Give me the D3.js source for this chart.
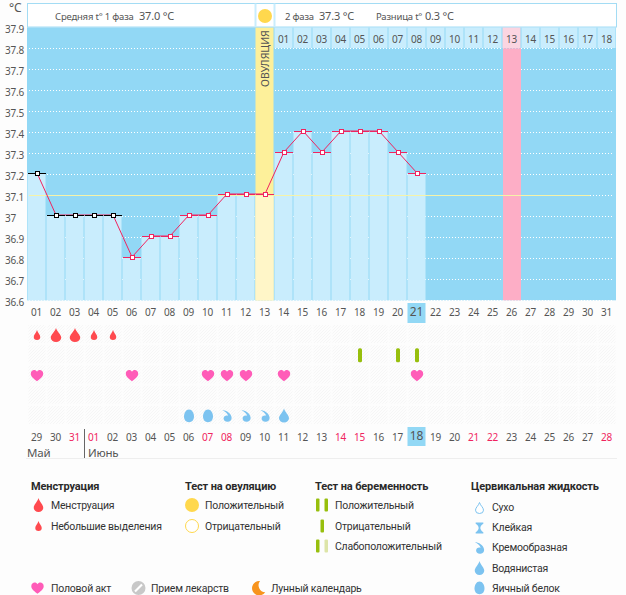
<!DOCTYPE html>
<html>
<head>
<meta charset="utf-8">
<script src="https://cdnjs.cloudflare.com/ajax/libs/d3/7.8.5/d3.min.js"></script>
<style>
  html, body { margin: 0; padding: 0; background: #fdfdfd; }
  svg { display: block; }
  text { fill: #555; font-family: "Noto Sans", sans-serif; font-size: 10px; letter-spacing: -0.2px; }
  .legend text { fill: #333; font-family: Roboto, sans-serif; font-size: 10.5px; letter-spacing: -0.22px; }
  .legend text.head { font-weight: 700; font-size: 11px; fill: #2a2a2a; letter-spacing: -0.13px; }
  .axis path, .axis line { display: none; }
</style>
</head>
<body>
<svg id="chart" width="626" height="595"></svg>
<script>
// -- Data -- //
const days = d3.range(1, 32);
const temps = [37.2, 37, 37, 37, 37, 36.8, 36.9, 36.9, 37, 37, 37.1, 37.1, 37.1,
  37.3, 37.4, 37.3, 37.4, 37.4, 37.4, 37.3, 37.2];
const tempTicks = [37.9, 37.8, 37.7, 37.6, 37.5, 37.4, 37.3, 37.2, 37.1, 37, 36.9, 36.8, 36.7, 36.6];
const dates = ["29", "30", "31", "01", "02", "03", "04", "05", "06", "07", "08", "09", "10", "11", "12", "13",
  "14", "15", "16", "17", "18", "19", "20", "21", "22", "23", "24", "25", "26", "27", "28"];
const redDates = ["31", "01", "07", "08", "14", "15", "21", "22", "28"];
const cycleDays = ["01", "02", "03", "04", "05", "06", "07", "08", "09", "10", "11", "12", "13", "14", "15", "16", "17", "18"];
const blackPoints = 5;
const ovulationDay = 13;
const pinkDay = 26;
const today = 21;
const coverTemp = 37.1;

// day -> mark, per row
const bloodBig = [2, 3];
const bloodSmall = [1, 4, 5];
const pregnancyTests = [18, 20, 21];
const sexDays = [1, 6, 10, 11, 12, 14, 21];
const eggWhiteDays = [9, 10];
const creamyDays = [11, 12, 13];
const wateryDays = [14];

const legendMenstruation = ["Менструация", "Небольшие выделения"];
const legendOvulation = ["Положительный", "Отрицательный"];
const legendPregnancy = ["Положительный", "Отрицательный", "Слабоположительный"];
const legendFluid = ["Сухо", "Клейкая", "Кремообразная", "Водянистая", "Яичный белок"];

// -- Scales -- //
const svg = d3.select("#chart");
const x = d3.scaleBand().domain(days).range([27.5, 616.5]);
const y = d3.scaleLinear().domain([36.6, 37.9]).range([300.3, 27.3]);
const cx = d => x(d) + x.bandwidth() / 2;
const pointY = t => Math.round(y(t) - 1);
const rowY = d3.scalePoint().domain([0, 1, 2, 3, 4]).range([335, 416]);

const BLUE = "#92d8f5", LIGHT = "#c9edfd", PINK = "#f0245f", RED = "#ff4a4f",
  SKY = "#7cc3f0", GREEN = "#97bf0d", YELLOW = "#ffd84d";

// Glyphs, all centered on 0,0
const dropPath = (w, h) => `M0,${-h / 2}C${w * .12},${-h * .2} ${w / 2},${-h * .05} ${w / 2},${h * .2}` +
  `A${w / 2},${h * .3} 0 1 1 ${-w / 2},${h * .2}C${-w / 2},${-h * .05} ${-w * .12},${-h * .2} 0,${-h / 2}Z`;
const heartPath = "M0,5.8C-2.5,3.6 -6.2,1.8 -6.2,-1.7C-6.2,-4.2 -4.4,-5.4 -2.9,-5.4C-1.6,-5.4 -.6,-4.7 0,-3.7" +
  "C.6,-4.7 1.6,-5.4 2.9,-5.4C4.4,-5.4 6.2,-4.2 6.2,-1.7C6.2,1.8 2.5,3.6 0,5.8Z";
const eggPath = "M0,-6.5C3,-6.5 5,-3 5,.5C5,4 3,6.2 0,6.2C-3,6.2 -5,4 -5,.5C-5,-3 -3,-6.5 0,-6.5Z";
const creamPath = "M-4.6,-6C-1,-5.6 4.2,-3 4.6,1.5C4.8,4.4 2.6,5.8 .4,5.8C-2,5.8 -3.4,4.2 -3.4,2.4" +
  "C-3.4,.6 -2,-.6 -.2,-.6C.4,-.6 .8,-.5 1.2,-.3C.4,-2.8 -2,-4.6 -4.6,-6Z";
const stickyPath = "M-4.5,-6.5H4.5V-5C2,-3.5 1,-1.5 1,0C1,1.5 2,3.5 4.5,5V6.5H-4.5V5C-2,3.5 -1,1.5 -1,0C-1,-1.5 -2,-3.5 -4.5,-5Z";
const moonPath = "M2,-7A7.2,7.2 0 1 0 7.2,4.2A7,7 0 0 1 2,-7Z";

function mark(path, px, py, fill, parent = svg) {
  return parent.append("path").attr("d", path).attr("fill", fill)
    .attr("transform", `translate(${px},${py})`);
}

// -- Patterns for the faint cell grain -- //
const defs = svg.append("defs");
const cellPattern = defs.append("pattern").attr("id", "grain")
  .attr("width", 3).attr("height", 3).attr("patternUnits", "userSpaceOnUse");
cellPattern.append("rect").attr("width", 3).attr("height", 3).attr("fill", "#fdfdfd");
cellPattern.append("path").attr("d", "M0,3L3,0").attr("stroke", "#f6f6f6").attr("stroke-width", 1);

// -- Plot background -- //
svg.append("rect")
  .attr("x", x(1) - 0.5).attr("y", y(37.9))
  .attr("width", x.step() * 31).attr("height", y(36.6) - y(37.9))
  .attr("fill", BLUE);

// Dotted gridlines
svg.append("g").selectAll("line")
  .data(tempTicks.filter(t => t < 37.9))
  .join("line")
  .attr("x1", 29).attr("x2", 614)
  .attr("y1", d => Math.round(y(d)) + 0.5).attr("y2", d => Math.round(y(d)) + 0.5)
  .attr("stroke", "#fff")
  .attr("stroke-dasharray", "1,2");

// Pink column
svg.append("rect")
  .attr("x", x(pinkDay) + 0.5).attr("y", y(37.8))
  .attr("width", x.bandwidth() - 1).attr("height", y(36.6) - y(37.8))
  .attr("fill", "#fdaec6");

// Temperature columns
svg.append("g").selectAll("rect")
  .data(temps)
  .join("rect")
  .attr("x", (d, i) => x(i + 1))
  .attr("y", d => pointY(d))
  .attr("width", x.bandwidth() - 1)
  .attr("height", d => y(36.6) - pointY(d))
  .attr("fill", LIGHT);

// Ovulation column
svg.append("rect")
  .attr("x", x(ovulationDay)).attr("y", y(37.9))
  .attr("width", x.bandwidth() - 1).attr("height", y(36.6) - y(37.9))
  .attr("fill", "#fdf09a");
svg.append("rect")
  .attr("x", x(ovulationDay)).attr("y", pointY(temps[ovulationDay - 1]))
  .attr("width", x.bandwidth() - 1).attr("height", y(36.6) - pointY(temps[ovulationDay - 1]))
  .attr("fill", "#fff6c8");
svg.append("text")
  .attr("transform", `translate(${cx(ovulationDay) + 3.5},87) rotate(-90)`)
  .style("font-size", "10.5px")
  .style("letter-spacing", "0")
  .text("ОВУЛЯЦИЯ");

// Cover line
svg.append("line")
  .attr("x1", 29).attr("x2", 590)
  .attr("y1", Math.round(y(coverTemp)) + 0.5).attr("y2", Math.round(y(coverTemp)) + 0.5)
  .attr("stroke", "#f6f3a8");

// Header box
svg.append("rect").attr("x", 27.5).attr("y", 3.5).attr("width", 589).attr("height", 23.5)
  .attr("fill", "#fff").attr("stroke", "#a3dcf4");
[x(ovulationDay), x(ovulationDay + 1)].forEach(px => {
  svg.append("line").attr("x1", px).attr("x2", px).attr("y1", 3.5).attr("y2", 27)
    .attr("stroke", "#c9edfd").attr("stroke-width", 2);
});
svg.append("circle").attr("cx", cx(ovulationDay)).attr("cy", 16).attr("r", 7).attr("fill", YELLOW);

[["Средняя t° 1 фаза", 55, 9.5], ["37.0 °C", 139, 11], ["2 фаза", 285, 9.5], ["37.3 °C", 319, 11],
  ["Разница t°", 376, 9.5], ["0.3 °C", 425, 11]].forEach(([label, px, size]) => {
  svg.append("text").attr("x", px).attr("y", 19.5).style("font-size", size + "px").text(label);
});
svg.append("text").attr("x", 9).attr("y", 12).style("font-size", "12px").text("°C");

// Cycle day cells along the top
const cycleStart = ovulationDay + 1;
svg.append("g").selectAll("rect")
  .data(cycleDays)
  .join("rect")
  .attr("x", (d, i) => x(cycleStart + i))
  .attr("y", 27.5)
  .attr("width", x.bandwidth() - 1)
  .attr("height", 20.5)
  .attr("fill", (d, i) => cycleStart + i === pinkDay ? "#fbd5e1" : LIGHT);
svg.append("g").selectAll("text")
  .data(cycleDays)
  .join("text")
  .attr("x", (d, i) => cx(cycleStart + i) - 0.5)
  .attr("y", 43)
  .attr("text-anchor", "middle")
  .text(d => d);

// Y axis
svg.append("g")
  .attr("class", "axis")
  .attr("transform", "translate(5,0)")
  .call(d3.axisLeft(y).tickValues(tempTicks).tickSize(0).tickPadding(0)
    .tickFormat(d => d === 37 ? "37" : d.toFixed(1)))
  .call(g => g.selectAll("text")
    .attr("text-anchor", "start").attr("x", 0).attr("dy", 5.5)
    .style("font-size", "10px"));

// Line and point markers
const line = d3.line().x((d, i) => cx(i + 1)).y(d => pointY(d));
svg.append("path").datum(temps)
  .attr("d", line).attr("fill", "none").attr("stroke", PINK);

const markColor = (d, i) => i < blackPoints ? "#000" : PINK;
svg.append("g").selectAll("line")
  .data(temps)
  .join("line")
  .attr("x1", (d, i) => cx(i + 1) - 9).attr("x2", (d, i) => cx(i + 1) + 9)
  .attr("y1", d => pointY(d) + 0.5).attr("y2", d => pointY(d) + 0.5)
  .attr("stroke", markColor);
svg.append("g").selectAll("rect")
  .data(temps)
  .join("rect")
  .attr("x", (d, i) => Math.round(cx(i + 1)) - 1.5)
  .attr("y", d => pointY(d) - 1.5)
  .attr("width", 4).attr("height", 4)
  .attr("fill", "#fff")
  .attr("stroke", markColor);

// -- Lower rows -- //
rowY.domain().forEach(r => {
  svg.append("g").selectAll("rect")
    .data(days)
    .join("rect")
    .attr("x", d => x(d) + 1)
    .attr("y", rowY(r) - 10)
    .attr("width", x.bandwidth() - 2)
    .attr("height", 18)
    .attr("fill", "url(#grain)");
});

// Day of cycle and date labels
[[today, 303, 20], [dates.indexOf("18") + 1, 427, 19]].forEach(([d, top, h]) => {
  svg.append("rect").attr("x", x(d)).attr("y", top)
    .attr("width", x.bandwidth() - 1).attr("height", h).attr("fill", BLUE);
});
svg.append("g").selectAll("text")
  .data(days)
  .join("text")
  .attr("x", d => cx(d) - 0.5).attr("y", 316)
  .attr("text-anchor", "middle")
  .style("font-size", d => d === today ? "12px" : "10px")
  .text(d => d3.format("02")(d));
svg.append("g").selectAll("text")
  .data(dates)
  .join("text")
  .attr("x", (d, i) => cx(i + 1) - 0.5).attr("y", (d, i) => i + 1 === today ? 440 : 441)
  .attr("text-anchor", "middle")
  .style("font-size", (d, i) => i + 1 === today ? "12px" : "10px")
  .style("fill", d => redDates.includes(d) ? PINK : "#555")
  .text(d => d);

// Month labels
svg.append("line").attr("x1", 84.5).attr("x2", 84.5).attr("y1", 429).attr("y2", 458).attr("stroke", "#666");
svg.append("text").attr("x", 27).attr("y", 457).style("font-size", "11.5px").text("Май");
svg.append("text").attr("x", 88).attr("y", 457).style("font-size", "11.5px").text("Июнь");
svg.append("line").attr("x1", 26).attr("x2", 617).attr("y1", 458.5).attr("y2", 458.5).attr("stroke", "#eee");

// Marks
bloodBig.forEach(d => mark(dropPath(10.5, 14), cx(d), rowY(0), RED));
bloodSmall.forEach(d => mark(dropPath(6.5, 10), cx(d), rowY(0), RED));
pregnancyTests.forEach(d => {
  svg.append("rect").attr("x", cx(d) - 2).attr("y", rowY(1) - 7)
    .attr("width", 4).attr("height", 14).attr("rx", 1.5).attr("fill", GREEN);
});
sexDays.forEach(d => mark(heartPath, cx(d), rowY(2), "#ff5cb8"));
eggWhiteDays.forEach(d => mark(eggPath, cx(d), rowY(4), SKY));
creamyDays.forEach(d => mark(creamPath, cx(d), rowY(4), SKY));
wateryDays.forEach(d => mark(dropPath(10, 14), cx(d), rowY(4) - 0.5, SKY));

// -- Legend -- //
const legend = svg.append("g").attr("class", "legend");
function legendText(label, px, py, cls) {
  legend.append("text").attr("x", px).attr("y", py).attr("class", cls || null).text(label);
}
legendText("Менструация", 31, 490, "head");
legendText("Тест на овуляцию", 185, 490, "head");
legendText("Тест на беременность", 315, 490, "head");
legendText("Цервикальная жидкость", 471, 490, "head");

legendMenstruation.forEach((t, i) => legendText(t, 51, 509 + i * 21));
mark(dropPath(9.5, 14), 38.5, 505, RED, legend);
mark(dropPath(6.5, 10), 38.5, 526, RED, legend);

legendOvulation.forEach((t, i) => legendText(t, 205, 509 + i * 21));
legend.append("circle").attr("cx", 192).attr("cy", 505).attr("r", 7).attr("fill", YELLOW);
legend.append("circle").attr("cx", 192).attr("cy", 526).attr("r", 6.5).attr("fill", "#fff").attr("stroke", YELLOW);

legendPregnancy.forEach((t, i) => legendText(t, 335, 509 + i * 20.5));
[[316, 505, GREEN], [324.5, 505, GREEN], [320.5, 526, GREEN], [316, 546, GREEN], [324.5, 546, "#dde5a8"]]
  .forEach(([px, py, fill]) => {
    legend.append("rect").attr("x", px).attr("y", py - 6.5)
      .attr("width", 3.5).attr("height", 13).attr("rx", 1).attr("fill", fill);
  });

legendFluid.forEach((t, i) => legendText(t, 492, 511 + i * 20.2));
const fluidY = i => 508 + i * 20;
mark(dropPath(8, 11), 479.5, fluidY(0), "#fff", legend).attr("stroke", SKY);
mark(stickyPath, 479.5, fluidY(1), SKY, legend).attr("transform", `translate(479.5,${fluidY(1)}) scale(.85)`);
mark(creamPath, 479.5, fluidY(2), SKY, legend);
mark(dropPath(9.5, 14), 479.5, fluidY(3), SKY, legend);
mark(eggPath, 479.5, fluidY(4), SKY, legend);

// Bottom row
mark(heartPath, 37.5, 588, "#ff5cb8", legend);
legendText("Половой акт", 51, 592);
legend.append("circle").attr("cx", 138.5).attr("cy", 588).attr("r", 7).attr("fill", "#c8c8c8");
legend.append("line").attr("x1", 135).attr("y1", 591.5).attr("x2", 142).attr("y2", 584.5)
  .attr("stroke", "#fff").attr("stroke-width", 2.2);
legendText("Прием лекарств", 151, 592);
mark(moonPath, 258, 588, "#f7941e", legend);
legendText("Лунный календарь", 271, 592);
</script>
</body>
</html>
